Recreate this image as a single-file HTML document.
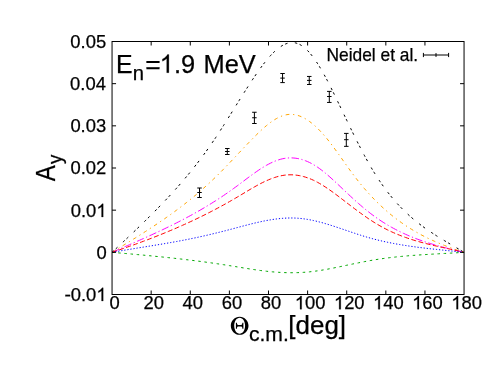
<!DOCTYPE html>
<html><head><meta charset="utf-8"><title>Ay plot</title>
<style>
html,body{margin:0;padding:0;background:#fff;}
body{width:491px;height:379px;overflow:hidden;font-family:"Liberation Sans",sans-serif;}
svg{display:block;will-change:transform;}
text{font-family:"Liberation Sans",sans-serif;fill:#000;}
</style></head><body>
<svg width="491" height="379" viewBox="0 0 491 379">
<rect x="0" y="0" width="491" height="379" fill="#ffffff"/>
<path d="M112.05,252.33 L114.01,250.50 L115.96,248.67 L117.92,246.84 L119.87,245.00 L121.83,243.17 L123.78,241.33 L125.74,239.49 L127.69,237.65 L129.65,235.80 L131.61,233.94 L133.56,232.08 L135.52,230.22 L137.47,228.34 L139.43,226.46 L141.38,224.57 L143.34,222.67 L145.29,220.75 L147.25,218.83 L149.21,216.89 L151.16,214.95 L153.12,212.99 L155.07,211.01 L157.03,209.02 L158.98,207.01 L160.94,204.99 L162.89,202.95 L164.85,200.89 L166.81,198.82 L168.76,196.72 L170.72,194.61 L172.67,192.47 L174.63,190.31 L176.58,188.13 L178.54,185.92 L180.49,183.68 L182.45,181.42 L184.41,179.13 L186.36,176.81 L188.32,174.45 L190.27,172.07 L192.23,169.65 L194.18,167.20 L196.14,164.71 L198.09,162.18 L200.05,159.62 L202.01,157.01 L203.96,154.37 L205.92,151.68 L207.87,148.95 L209.83,146.18 L211.78,143.36 L213.74,140.49 L215.69,137.57 L217.65,134.62 L219.61,131.62 L221.56,128.58 L223.52,125.52 L225.47,122.43 L227.43,119.32 L229.38,116.19 L231.34,113.06 L233.29,109.91 L235.25,106.76 L237.21,103.62 L239.16,100.48 L241.12,97.36 L243.07,94.25 L245.03,91.17 L246.98,88.11 L248.94,85.08 L250.89,82.09 L252.85,79.13 L254.81,76.23 L256.76,73.37 L258.72,70.58 L260.67,67.86 L262.63,65.22 L264.58,62.67 L266.54,60.23 L268.49,57.90 L270.45,55.70 L272.41,53.63 L274.36,51.70 L276.32,49.93 L278.27,48.32 L280.23,46.89 L282.18,45.64 L284.14,44.59 L286.09,43.75 L288.05,43.12 L290.01,42.72 L291.96,42.55 L293.92,42.64 L295.87,42.98 L297.83,43.58 L299.78,44.47 L301.74,45.62 L303.69,47.04 L305.65,48.70 L307.61,50.60 L309.56,52.73 L311.52,55.08 L313.47,57.63 L315.43,60.37 L317.38,63.29 L319.34,66.39 L321.29,69.64 L323.25,73.04 L325.21,76.58 L327.16,80.24 L329.12,84.01 L331.07,87.88 L333.03,91.82 L334.98,95.83 L336.94,99.87 L338.89,103.94 L340.85,108.02 L342.81,112.11 L344.76,116.18 L346.72,120.25 L348.67,124.30 L350.63,128.32 L352.58,132.32 L354.54,136.27 L356.49,140.18 L358.45,144.05 L360.41,147.85 L362.36,151.60 L364.32,155.27 L366.27,158.87 L368.23,162.38 L370.18,165.81 L372.14,169.14 L374.09,172.37 L376.05,175.50 L378.01,178.53 L379.96,181.46 L381.92,184.30 L383.87,187.04 L385.83,189.70 L387.78,192.27 L389.74,194.76 L391.69,197.16 L393.65,199.48 L395.61,201.73 L397.56,203.91 L399.52,206.01 L401.47,208.05 L403.43,210.02 L405.38,211.92 L407.34,213.77 L409.29,215.56 L411.25,217.29 L413.21,218.96 L415.16,220.59 L417.12,222.17 L419.07,223.70 L421.03,225.19 L422.98,226.64 L424.94,228.06 L426.89,229.43 L428.85,230.78 L430.81,232.09 L432.76,233.38 L434.72,234.64 L436.67,235.88 L438.63,237.10 L440.58,238.31 L442.54,239.49 L444.49,240.67 L446.45,241.84 L448.41,243.00 L450.36,244.15 L452.32,245.31 L454.27,246.46 L456.23,247.62 L458.18,248.78 L460.14,249.95 L462.09,251.14 L464.05,252.33" fill="none" stroke="#000000" stroke-width="1.0" stroke-dasharray="2.477 2.477 2.477 7.431" stroke-dashoffset="0"/>
<path d="M112.05,252.33 L114.01,251.13 L115.96,249.92 L117.92,248.72 L119.87,247.51 L121.83,246.31 L123.78,245.10 L125.74,243.90 L127.69,242.69 L129.65,241.48 L131.61,240.26 L133.56,239.04 L135.52,237.82 L137.47,236.59 L139.43,235.36 L141.38,234.12 L143.34,232.87 L145.29,231.62 L147.25,230.36 L149.21,229.09 L151.16,227.81 L153.12,226.52 L155.07,225.22 L157.03,223.91 L158.98,222.60 L160.94,221.26 L162.89,219.92 L164.85,218.57 L166.81,217.20 L168.76,215.81 L170.72,214.41 L172.67,213.00 L174.63,211.57 L176.58,210.13 L178.54,208.67 L180.49,207.19 L182.45,205.69 L184.41,204.18 L186.36,202.64 L188.32,201.09 L190.27,199.52 L192.23,197.92 L194.18,196.31 L196.14,194.67 L198.09,193.01 L200.05,191.33 L202.01,189.62 L203.96,187.89 L205.92,186.14 L207.87,184.36 L209.83,182.56 L211.78,180.72 L213.74,178.87 L215.69,176.98 L217.65,175.07 L219.61,173.12 L221.56,171.16 L223.52,169.16 L225.47,167.15 L227.43,165.12 L229.38,163.07 L231.34,161.02 L233.29,158.95 L235.25,156.88 L237.21,154.80 L239.16,152.72 L241.12,150.65 L243.07,148.58 L245.03,146.52 L246.98,144.47 L248.94,142.44 L250.89,140.42 L252.85,138.42 L254.81,136.45 L256.76,134.50 L258.72,132.60 L260.67,130.75 L262.63,128.95 L264.58,127.22 L266.54,125.56 L268.49,123.98 L270.45,122.50 L272.41,121.11 L274.36,119.82 L276.32,118.65 L278.27,117.60 L280.23,116.69 L282.18,115.91 L284.14,115.28 L286.09,114.80 L288.05,114.49 L290.01,114.35 L291.96,114.38 L293.92,114.57 L295.87,114.92 L297.83,115.42 L299.78,116.08 L301.74,116.88 L303.69,117.83 L305.65,118.92 L307.61,120.15 L309.56,121.50 L311.52,122.98 L313.47,124.59 L315.43,126.31 L317.38,128.15 L319.34,130.11 L321.29,132.16 L323.25,134.33 L325.21,136.59 L327.16,138.94 L329.12,141.38 L331.07,143.91 L333.03,146.50 L334.98,149.16 L336.94,151.86 L338.89,154.59 L340.85,157.35 L342.81,160.11 L344.76,162.88 L346.72,165.64 L348.67,168.38 L350.63,171.08 L352.58,173.74 L354.54,176.34 L356.49,178.87 L358.45,181.35 L360.41,183.77 L362.36,186.14 L364.32,188.44 L366.27,190.69 L368.23,192.89 L370.18,195.03 L372.14,197.12 L374.09,199.15 L376.05,201.13 L378.01,203.07 L379.96,204.95 L381.92,206.79 L383.87,208.57 L385.83,210.31 L387.78,212.01 L389.74,213.66 L391.69,215.27 L393.65,216.83 L395.61,218.35 L397.56,219.83 L399.52,221.27 L401.47,222.67 L403.43,224.03 L405.38,225.36 L407.34,226.65 L409.29,227.90 L411.25,229.12 L413.21,230.30 L415.16,231.45 L417.12,232.57 L419.07,233.66 L421.03,234.72 L422.98,235.75 L424.94,236.76 L426.89,237.73 L428.85,238.68 L430.81,239.60 L432.76,240.50 L434.72,241.38 L436.67,242.23 L438.63,243.06 L440.58,243.87 L442.54,244.66 L444.49,245.44 L446.45,246.19 L448.41,246.93 L450.36,247.65 L452.32,248.36 L454.27,249.05 L456.23,249.73 L458.18,250.40 L460.14,251.05 L462.09,251.70 L464.05,252.33" fill="none" stroke="#ffa500" stroke-width="1.0" stroke-dasharray="3.715 3.715 1.238 3.715" stroke-dashoffset="0"/>
<path d="M112.05,252.33 L114.01,251.48 L115.96,250.62 L117.92,249.76 L119.87,248.91 L121.83,248.05 L123.78,247.20 L125.74,246.34 L127.69,245.49 L129.65,244.63 L131.61,243.77 L133.56,242.91 L135.52,242.05 L137.47,241.18 L139.43,240.32 L141.38,239.45 L143.34,238.57 L145.29,237.70 L147.25,236.81 L149.21,235.93 L151.16,235.04 L153.12,234.14 L155.07,233.24 L157.03,232.33 L158.98,231.42 L160.94,230.50 L162.89,229.57 L164.85,228.64 L166.81,227.69 L168.76,226.74 L170.72,225.79 L172.67,224.82 L174.63,223.84 L176.58,222.86 L178.54,221.86 L180.49,220.86 L182.45,219.85 L184.41,218.82 L186.36,217.78 L188.32,216.74 L190.27,215.68 L192.23,214.61 L194.18,213.52 L196.14,212.43 L198.09,211.32 L200.05,210.19 L202.01,209.06 L203.96,207.91 L205.92,206.74 L207.87,205.56 L209.83,204.37 L211.78,203.16 L213.74,201.93 L215.69,200.69 L217.65,199.43 L219.61,198.16 L221.56,196.87 L223.52,195.56 L225.47,194.23 L227.43,192.88 L229.38,191.52 L231.34,190.13 L233.29,188.73 L235.25,187.31 L237.21,185.87 L239.16,184.41 L241.12,182.95 L243.07,181.47 L245.03,180.00 L246.98,178.53 L248.94,177.07 L250.89,175.63 L252.85,174.21 L254.81,172.81 L256.76,171.45 L258.72,170.12 L260.67,168.83 L262.63,167.59 L264.58,166.40 L266.54,165.26 L268.49,164.19 L270.45,163.19 L272.41,162.25 L274.36,161.40 L276.32,160.62 L278.27,159.94 L280.23,159.35 L282.18,158.85 L284.14,158.46 L286.09,158.17 L288.05,157.98 L290.01,157.89 L291.96,157.91 L293.92,158.02 L295.87,158.24 L297.83,158.55 L299.78,158.97 L301.74,159.48 L303.69,160.09 L305.65,160.80 L307.61,161.61 L309.56,162.51 L311.52,163.51 L313.47,164.61 L315.43,165.80 L317.38,167.08 L319.34,168.45 L321.29,169.90 L323.25,171.41 L325.21,173.00 L327.16,174.64 L329.12,176.33 L331.07,178.06 L333.03,179.83 L334.98,181.64 L336.94,183.47 L338.89,185.31 L340.85,187.17 L342.81,189.02 L344.76,190.88 L346.72,192.73 L348.67,194.56 L350.63,196.38 L352.58,198.18 L354.54,199.95 L356.49,201.71 L358.45,203.44 L360.41,205.14 L362.36,206.82 L364.32,208.46 L366.27,210.06 L368.23,211.63 L370.18,213.16 L372.14,214.65 L374.09,216.10 L376.05,217.50 L378.01,218.87 L379.96,220.19 L381.92,221.48 L383.87,222.73 L385.83,223.94 L387.78,225.11 L389.74,226.25 L391.69,227.36 L393.65,228.43 L395.61,229.47 L397.56,230.48 L399.52,231.46 L401.47,232.41 L403.43,233.33 L405.38,234.22 L407.34,235.09 L409.29,235.93 L411.25,236.74 L413.21,237.53 L415.16,238.30 L417.12,239.04 L419.07,239.76 L421.03,240.46 L422.98,241.14 L424.94,241.80 L426.89,242.44 L428.85,243.07 L430.81,243.67 L432.76,244.27 L434.72,244.84 L436.67,245.41 L438.63,245.96 L440.58,246.50 L442.54,247.03 L444.49,247.54 L446.45,248.05 L448.41,248.55 L450.36,249.04 L452.32,249.52 L454.27,250.00 L456.23,250.47 L458.18,250.94 L460.14,251.41 L462.09,251.87 L464.05,252.33" fill="none" stroke="#ff00ff" stroke-width="1.0" stroke-dasharray="7.431 2.477 1.238 2.477" stroke-dashoffset="0"/>
<path d="M112.05,252.33 L114.01,251.68 L115.96,251.02 L117.92,250.36 L119.87,249.69 L121.83,249.02 L123.78,248.34 L125.74,247.66 L127.69,246.98 L129.65,246.29 L131.61,245.59 L133.56,244.89 L135.52,244.19 L137.47,243.48 L139.43,242.76 L141.38,242.04 L143.34,241.31 L145.29,240.57 L147.25,239.83 L149.21,239.09 L151.16,238.34 L153.12,237.58 L155.07,236.81 L157.03,236.04 L158.98,235.26 L160.94,234.47 L162.89,233.68 L164.85,232.88 L166.81,232.07 L168.76,231.26 L170.72,230.44 L172.67,229.61 L174.63,228.77 L176.58,227.93 L178.54,227.07 L180.49,226.21 L182.45,225.34 L184.41,224.46 L186.36,223.58 L188.32,222.68 L190.27,221.78 L192.23,220.87 L194.18,219.94 L196.14,219.01 L198.09,218.07 L200.05,217.12 L202.01,216.16 L203.96,215.20 L205.92,214.22 L207.87,213.23 L209.83,212.23 L211.78,211.22 L213.74,210.20 L215.69,209.18 L217.65,208.14 L219.61,207.09 L221.56,206.03 L223.52,204.95 L225.47,203.87 L227.43,202.78 L229.38,201.67 L231.34,200.56 L233.29,199.43 L235.25,198.29 L237.21,197.14 L239.16,195.98 L241.12,194.81 L243.07,193.63 L245.03,192.45 L246.98,191.28 L248.94,190.12 L250.89,188.97 L252.85,187.83 L254.81,186.72 L256.76,185.62 L258.72,184.56 L260.67,183.53 L262.63,182.54 L264.58,181.59 L266.54,180.68 L268.49,179.83 L270.45,179.02 L272.41,178.27 L274.36,177.59 L276.32,176.97 L278.27,176.42 L280.23,175.95 L282.18,175.55 L284.14,175.24 L286.09,175.01 L288.05,174.86 L290.01,174.80 L291.96,174.81 L293.92,174.92 L295.87,175.10 L297.83,175.36 L299.78,175.70 L301.74,176.12 L303.69,176.62 L305.65,177.20 L307.61,177.85 L309.56,178.58 L311.52,179.38 L313.47,180.26 L315.43,181.21 L317.38,182.23 L319.34,183.32 L321.29,184.46 L323.25,185.66 L325.21,186.91 L327.16,188.21 L329.12,189.55 L331.07,190.92 L333.03,192.33 L334.98,193.76 L336.94,195.22 L338.89,196.70 L340.85,198.19 L342.81,199.69 L344.76,201.20 L346.72,202.71 L348.67,204.21 L350.63,205.71 L352.58,207.20 L354.54,208.67 L356.49,210.13 L358.45,211.58 L360.41,213.01 L362.36,214.42 L364.32,215.80 L366.27,217.17 L368.23,218.50 L370.18,219.81 L372.14,221.09 L374.09,222.33 L376.05,223.54 L378.01,224.71 L379.96,225.85 L381.92,226.94 L383.87,228.00 L385.83,229.01 L387.78,230.00 L389.74,230.94 L391.69,231.85 L393.65,232.73 L395.61,233.58 L397.56,234.40 L399.52,235.19 L401.47,235.95 L403.43,236.68 L405.38,237.39 L407.34,238.07 L409.29,238.73 L411.25,239.37 L413.21,239.99 L415.16,240.58 L417.12,241.16 L419.07,241.72 L421.03,242.26 L422.98,242.79 L424.94,243.30 L426.89,243.80 L428.85,244.29 L430.81,244.76 L432.76,245.23 L434.72,245.69 L436.67,246.14 L438.63,246.58 L440.58,247.02 L442.54,247.46 L444.49,247.89 L446.45,248.33 L448.41,248.76 L450.36,249.19 L452.32,249.62 L454.27,250.06 L456.23,250.50 L458.18,250.95 L460.14,251.40 L462.09,251.86 L464.05,252.33" fill="none" stroke="#ff0000" stroke-width="1.0" stroke-dasharray="4.954 2.477" stroke-dashoffset="0"/>
<path d="M112.05,252.33 L114.01,251.99 L115.96,251.64 L117.92,251.31 L119.87,250.97 L121.83,250.64 L123.78,250.31 L125.74,249.98 L127.69,249.66 L129.65,249.34 L131.61,249.02 L133.56,248.70 L135.52,248.38 L137.47,248.06 L139.43,247.75 L141.38,247.43 L143.34,247.12 L145.29,246.80 L147.25,246.48 L149.21,246.17 L151.16,245.85 L153.12,245.53 L155.07,245.21 L157.03,244.89 L158.98,244.57 L160.94,244.24 L162.89,243.91 L164.85,243.58 L166.81,243.24 L168.76,242.90 L170.72,242.56 L172.67,242.21 L174.63,241.86 L176.58,241.51 L178.54,241.15 L180.49,240.78 L182.45,240.41 L184.41,240.03 L186.36,239.65 L188.32,239.26 L190.27,238.87 L192.23,238.46 L194.18,238.05 L196.14,237.64 L198.09,237.22 L200.05,236.79 L202.01,236.35 L203.96,235.91 L205.92,235.46 L207.87,235.01 L209.83,234.55 L211.78,234.09 L213.74,233.62 L215.69,233.14 L217.65,232.66 L219.61,232.17 L221.56,231.68 L223.52,231.19 L225.47,230.69 L227.43,230.18 L229.38,229.67 L231.34,229.16 L233.29,228.64 L235.25,228.12 L237.21,227.59 L239.16,227.07 L241.12,226.55 L243.07,226.03 L245.03,225.52 L246.98,225.01 L248.94,224.50 L250.89,224.01 L252.85,223.53 L254.81,223.05 L256.76,222.59 L258.72,222.15 L260.67,221.72 L262.63,221.30 L264.58,220.90 L266.54,220.53 L268.49,220.17 L270.45,219.83 L272.41,219.52 L274.36,219.23 L276.32,218.97 L278.27,218.74 L280.23,218.54 L282.18,218.36 L284.14,218.22 L286.09,218.11 L288.05,218.03 L290.01,217.99 L291.96,217.99 L293.92,218.03 L295.87,218.10 L297.83,218.22 L299.78,218.38 L301.74,218.58 L303.69,218.82 L305.65,219.10 L307.61,219.41 L309.56,219.76 L311.52,220.14 L313.47,220.55 L315.43,220.99 L317.38,221.46 L319.34,221.95 L321.29,222.47 L323.25,223.01 L325.21,223.57 L327.16,224.14 L329.12,224.74 L331.07,225.35 L333.03,225.97 L334.98,226.61 L336.94,227.25 L338.89,227.91 L340.85,228.56 L342.81,229.23 L344.76,229.90 L346.72,230.57 L348.67,231.23 L350.63,231.90 L352.58,232.56 L354.54,233.22 L356.49,233.87 L358.45,234.51 L360.41,235.14 L362.36,235.75 L364.32,236.36 L366.27,236.94 L368.23,237.51 L370.18,238.06 L372.14,238.60 L374.09,239.12 L376.05,239.62 L378.01,240.10 L379.96,240.57 L381.92,241.03 L383.87,241.47 L385.83,241.89 L387.78,242.31 L389.74,242.71 L391.69,243.09 L393.65,243.47 L395.61,243.83 L397.56,244.18 L399.52,244.52 L401.47,244.85 L403.43,245.17 L405.38,245.48 L407.34,245.78 L409.29,246.07 L411.25,246.35 L413.21,246.63 L415.16,246.90 L417.12,247.16 L419.07,247.41 L421.03,247.65 L422.98,247.90 L424.94,248.13 L426.89,248.36 L428.85,248.59 L430.81,248.81 L432.76,249.02 L434.72,249.24 L436.67,249.45 L438.63,249.66 L440.58,249.86 L442.54,250.07 L444.49,250.27 L446.45,250.47 L448.41,250.68 L450.36,250.88 L452.32,251.08 L454.27,251.29 L456.23,251.49 L458.18,251.70 L460.14,251.91 L462.09,252.12 L464.05,252.33" fill="none" stroke="#0000ff" stroke-width="1.0" stroke-dasharray="1.238 1.858" stroke-dashoffset="0"/>
<path d="M112.05,252.33 L114.01,252.50 L115.96,252.67 L117.92,252.84 L119.87,253.01 L121.83,253.18 L123.78,253.36 L125.74,253.53 L127.69,253.70 L129.65,253.88 L131.61,254.05 L133.56,254.23 L135.52,254.41 L137.47,254.59 L139.43,254.77 L141.38,254.95 L143.34,255.14 L145.29,255.32 L147.25,255.51 L149.21,255.70 L151.16,255.88 L153.12,256.08 L155.07,256.27 L157.03,256.47 L158.98,256.66 L160.94,256.86 L162.89,257.06 L164.85,257.27 L166.81,257.47 L168.76,257.68 L170.72,257.89 L172.67,258.10 L174.63,258.32 L176.58,258.54 L178.54,258.76 L180.49,258.98 L182.45,259.20 L184.41,259.43 L186.36,259.66 L188.32,259.90 L190.27,260.14 L192.23,260.38 L194.18,260.62 L196.14,260.87 L198.09,261.12 L200.05,261.37 L202.01,261.63 L203.96,261.89 L205.92,262.15 L207.87,262.42 L209.83,262.69 L211.78,262.96 L213.74,263.24 L215.69,263.52 L217.65,263.81 L219.61,264.10 L221.56,264.39 L223.52,264.69 L225.47,265.00 L227.43,265.30 L229.38,265.61 L231.34,265.93 L233.29,266.25 L235.25,266.57 L237.21,266.89 L239.16,267.22 L241.12,267.54 L243.07,267.86 L245.03,268.18 L246.98,268.49 L248.94,268.81 L250.89,269.11 L252.85,269.41 L254.81,269.70 L256.76,269.99 L258.72,270.26 L260.67,270.53 L262.63,270.78 L264.58,271.02 L266.54,271.24 L268.49,271.46 L270.45,271.65 L272.41,271.84 L274.36,272.00 L276.32,272.15 L278.27,272.29 L280.23,272.41 L282.18,272.51 L284.14,272.59 L286.09,272.65 L288.05,272.70 L290.01,272.72 L291.96,272.73 L293.92,272.72 L295.87,272.68 L297.83,272.63 L299.78,272.55 L301.74,272.46 L303.69,272.34 L305.65,272.19 L307.61,272.03 L309.56,271.84 L311.52,271.63 L313.47,271.40 L315.43,271.14 L317.38,270.87 L319.34,270.57 L321.29,270.26 L323.25,269.93 L325.21,269.59 L327.16,269.24 L329.12,268.87 L331.07,268.49 L333.03,268.11 L334.98,267.71 L336.94,267.31 L338.89,266.91 L340.85,266.50 L342.81,266.09 L344.76,265.68 L346.72,265.26 L348.67,264.85 L350.63,264.44 L352.58,264.03 L354.54,263.63 L356.49,263.23 L358.45,262.83 L360.41,262.44 L362.36,262.05 L364.32,261.67 L366.27,261.30 L368.23,260.94 L370.18,260.59 L372.14,260.24 L374.09,259.91 L376.05,259.60 L378.01,259.29 L379.96,258.99 L381.92,258.71 L383.87,258.44 L385.83,258.17 L387.78,257.92 L389.74,257.68 L391.69,257.44 L393.65,257.22 L395.61,257.00 L397.56,256.80 L399.52,256.60 L401.47,256.41 L403.43,256.22 L405.38,256.04 L407.34,255.87 L409.29,255.71 L411.25,255.55 L413.21,255.40 L415.16,255.25 L417.12,255.11 L419.07,254.97 L421.03,254.84 L422.98,254.71 L424.94,254.59 L426.89,254.47 L428.85,254.35 L430.81,254.23 L432.76,254.12 L434.72,254.01 L436.67,253.90 L438.63,253.79 L440.58,253.68 L442.54,253.57 L444.49,253.46 L446.45,253.36 L448.41,253.25 L450.36,253.14 L452.32,253.03 L454.27,252.92 L456.23,252.81 L458.18,252.69 L460.14,252.58 L462.09,252.46 L464.05,252.33" fill="none" stroke="#00a800" stroke-width="1.0" stroke-dasharray="2.477 3.715" stroke-dashoffset="0"/>
<path stroke="#000" stroke-width="1.0" fill="none" d="M199.50,188.00V197.50 M197.25,188.00H201.75 M197.25,197.50H201.75 M197.25,192.50H201.75"/>
<path stroke="#000" stroke-width="1.0" fill="none" d="M227.30,148.50V154.50 M225.05,148.50H229.55 M225.05,154.50H229.55 M225.05,151.50H229.55"/>
<path stroke="#000" stroke-width="1.0" fill="none" d="M254.40,112.25V123.50 M252.15,112.25H256.65 M252.15,123.50H256.65 M252.15,117.75H256.65"/>
<path stroke="#000" stroke-width="1.0" fill="none" d="M282.55,73.50V82.60 M280.30,73.50H284.80 M280.30,82.60H284.80 M280.30,78.10H284.80"/>
<path stroke="#000" stroke-width="1.0" fill="none" d="M309.25,76.45V84.50 M307.00,76.45H311.50 M307.00,84.50H311.50 M307.00,80.40H311.50"/>
<path stroke="#000" stroke-width="1.0" fill="none" d="M329.30,91.40V102.45 M327.05,91.40H331.55 M327.05,102.45H331.55 M327.05,96.50H331.55"/>
<path stroke="#000" stroke-width="1.0" fill="none" d="M346.30,133.40V146.35 M344.05,133.40H348.55 M344.05,146.35H348.55 M344.05,139.70H348.55"/>
<path stroke="#000" stroke-width="1.0" fill="none" d="M423.4,55.0H448.6 M423.4,52.9V57.1 M448.6,52.9V57.1 M436.0,53.1V56.9"/>
<rect x="112.05" y="41.5" width="352.00" height="253.00" fill="none" stroke="#000" stroke-width="1.0"/>
<path d="M112.05,252.33h4 M464.05,252.33h-4 M112.05,210.17h4 M464.05,210.17h-4 M112.05,168.00h4 M464.05,168.00h-4 M112.05,125.83h4 M464.05,125.83h-4 M112.05,83.67h4 M464.05,83.67h-4 M151.16,294.50v-4 M151.16,41.50v4 M190.27,294.50v-4 M190.27,41.50v4 M229.38,294.50v-4 M229.38,41.50v4 M268.49,294.50v-4 M268.49,41.50v4 M307.61,294.50v-4 M307.61,41.50v4 M346.72,294.50v-4 M346.72,41.50v4 M385.83,294.50v-4 M385.83,41.50v4 M424.94,294.50v-4 M424.94,41.50v4" fill="none" stroke="#000" stroke-width="1.0"/>
<text x="70.77" y="301.00" font-size="18.4" textLength="25.58" lengthAdjust="spacingAndGlyphs" stroke="#000" stroke-width="0.25">0.0</text><path d="M763 0H583V1147Q518 1085 412.5 1023T223 930V1104Q374 1175 487 1276T647 1472H763Z" transform="translate(96.34,301.00) scale(0.00898,-0.00898)" fill="#000" stroke="#000" stroke-width="27.8"/>
<text x="64.54" y="301.00" font-size="18.4" textLength="6.41" lengthAdjust="spacingAndGlyphs" stroke="#000" stroke-width="0.25">-</text>
<text x="96.39" y="259.00" font-size="18.4" textLength="10.23" lengthAdjust="spacingAndGlyphs" stroke="#000" stroke-width="0.25">0</text>
<text x="70.77" y="217.00" font-size="18.4" textLength="25.58" lengthAdjust="spacingAndGlyphs" stroke="#000" stroke-width="0.25">0.0</text><path d="M763 0H583V1147Q518 1085 412.5 1023T223 930V1104Q374 1175 487 1276T647 1472H763Z" transform="translate(96.34,217.00) scale(0.00898,-0.00898)" fill="#000" stroke="#000" stroke-width="27.8"/>
<text x="70.51" y="174.40" font-size="18.4" textLength="35.81" lengthAdjust="spacingAndGlyphs" stroke="#000" stroke-width="0.25">0.02</text>
<text x="70.40" y="132.00" font-size="18.4" textLength="35.81" lengthAdjust="spacingAndGlyphs" stroke="#000" stroke-width="0.25">0.03</text>
<text x="70.13" y="90.00" font-size="18.4" textLength="35.81" lengthAdjust="spacingAndGlyphs" stroke="#000" stroke-width="0.25">0.04</text>
<text x="70.36" y="47.90" font-size="18.4" textLength="35.81" lengthAdjust="spacingAndGlyphs" stroke="#000" stroke-width="0.25">0.05</text>
<text x="109.48" y="309.20" font-size="18.4" textLength="10.23" lengthAdjust="spacingAndGlyphs" stroke="#000" stroke-width="0.25">0</text>
<text x="143.48" y="309.20" font-size="18.4" textLength="20.47" lengthAdjust="spacingAndGlyphs" stroke="#000" stroke-width="0.25">20</text>
<text x="182.59" y="309.20" font-size="18.4" textLength="20.47" lengthAdjust="spacingAndGlyphs" stroke="#000" stroke-width="0.25">40</text>
<text x="221.70" y="309.20" font-size="18.4" textLength="20.47" lengthAdjust="spacingAndGlyphs" stroke="#000" stroke-width="0.25">60</text>
<text x="260.81" y="309.20" font-size="18.4" textLength="20.47" lengthAdjust="spacingAndGlyphs" stroke="#000" stroke-width="0.25">80</text>
<path d="M763 0H583V1147Q518 1085 412.5 1023T223 930V1104Q374 1175 487 1276T647 1472H763Z" transform="translate(294.81,309.20) scale(0.00898,-0.00898)" fill="#000" stroke="#000" stroke-width="27.8"/><text x="305.04" y="309.20" font-size="18.4" textLength="20.47" lengthAdjust="spacingAndGlyphs" stroke="#000" stroke-width="0.25">00</text>
<path d="M763 0H583V1147Q518 1085 412.5 1023T223 930V1104Q374 1175 487 1276T647 1472H763Z" transform="translate(333.92,309.20) scale(0.00898,-0.00898)" fill="#000" stroke="#000" stroke-width="27.8"/><text x="344.15" y="309.20" font-size="18.4" textLength="20.47" lengthAdjust="spacingAndGlyphs" stroke="#000" stroke-width="0.25">20</text>
<path d="M763 0H583V1147Q518 1085 412.5 1023T223 930V1104Q374 1175 487 1276T647 1472H763Z" transform="translate(373.03,309.20) scale(0.00898,-0.00898)" fill="#000" stroke="#000" stroke-width="27.8"/><text x="383.26" y="309.20" font-size="18.4" textLength="20.47" lengthAdjust="spacingAndGlyphs" stroke="#000" stroke-width="0.25">40</text>
<path d="M763 0H583V1147Q518 1085 412.5 1023T223 930V1104Q374 1175 487 1276T647 1472H763Z" transform="translate(412.14,309.20) scale(0.00898,-0.00898)" fill="#000" stroke="#000" stroke-width="27.8"/><text x="422.37" y="309.20" font-size="18.4" textLength="20.47" lengthAdjust="spacingAndGlyphs" stroke="#000" stroke-width="0.25">60</text>
<path d="M763 0H583V1147Q518 1085 412.5 1023T223 930V1104Q374 1175 487 1276T647 1472H763Z" transform="translate(451.25,309.20) scale(0.00898,-0.00898)" fill="#000" stroke="#000" stroke-width="27.8"/><text x="461.48" y="309.20" font-size="18.4" textLength="20.47" lengthAdjust="spacingAndGlyphs" stroke="#000" stroke-width="0.25">80</text>
<text x="326.48" y="60.60" font-size="17.7" textLength="91.71" lengthAdjust="spacingAndGlyphs" stroke="#000" stroke-width="0.25">Neidel et al.</text>
<text x="116.01" y="72.70" font-size="26.3" textLength="16.61" lengthAdjust="spacingAndGlyphs" stroke="#000" stroke-width="0.25">E</text>
<text x="132.66" y="80.20" font-size="20.4" textLength="11.26" lengthAdjust="spacingAndGlyphs" stroke="#000" stroke-width="0.25">n</text>
<text x="145.16" y="73.40" font-size="26.3" textLength="15.45" lengthAdjust="spacingAndGlyphs" stroke="#000" stroke-width="0.25">=</text>
<path d="M763 0H583V1147Q518 1085 412.5 1023T223 930V1104Q374 1175 487 1276T647 1472H763Z" transform="translate(159.75,72.70) scale(0.01195,-0.01235)" fill="#000" stroke="#000" stroke-width="20.2"/><text x="173.89" y="72.70" font-size="26.3" textLength="21.21" lengthAdjust="spacingAndGlyphs" stroke="#000" stroke-width="0.25">.9</text>
<text x="203.50" y="72.70" font-size="26.3" textLength="21.19" lengthAdjust="spacingAndGlyphs" stroke="#000" stroke-width="0.25">M</text>
<text x="224.85" y="72.70" font-size="25.4" textLength="14.13" lengthAdjust="spacingAndGlyphs" stroke="#000" stroke-width="0.25">e</text>
<text x="238.85" y="72.70" font-size="26.3" textLength="16.96" lengthAdjust="spacingAndGlyphs" stroke="#000" stroke-width="0.25">V</text>
<g transform="translate(54.55,181.3) rotate(-90)"><text x="0.05" y="0.00" font-size="27.5" textLength="15.99" lengthAdjust="spacingAndGlyphs" stroke="#000" stroke-width="0.25">A</text><text x="17.35" y="7.50" font-size="20.4" textLength="9.38" lengthAdjust="spacingAndGlyphs" stroke="#000" stroke-width="0.25">y</text></g>
<path fill="#000" fill-rule="evenodd" d="M239.65,316.65 C244.54,316.65 248.50,320.72 248.50,325.75 C248.50,330.78 244.54,334.85 239.65,334.85 C234.76,334.85 230.80,330.78 230.80,325.75 C230.80,320.72 234.76,316.65 239.65,316.65 Z M239.65,317.75 C242.66,317.75 245.10,321.33 245.10,325.75 C245.10,330.17 242.66,333.75 239.65,333.75 C236.64,333.75 234.20,330.17 234.20,325.75 C234.20,321.33 236.64,317.75 239.65,317.75 Z"/>
<path fill="#000" d="M235.90,322.80 L236.90,322.80 Q236.90,324.95 238.00,324.95 L241.30,324.95 Q242.40,324.95 242.40,322.80 L243.40,322.80 L243.40,328.70 L242.40,328.70 Q242.40,326.55 241.30,326.55 L238.00,326.55 Q236.90,326.55 236.90,328.70 L235.90,328.70 Z"/>
<text x="248.90" y="341.30" font-size="20.4" textLength="39.93" lengthAdjust="spacingAndGlyphs" stroke="#000" stroke-width="0.25">c.m.</text>
<text x="288.35" y="334.30" font-size="25.0" textLength="57.70" lengthAdjust="spacingAndGlyphs" stroke="#000" stroke-width="0.25">[deg]</text>
</svg>
</body></html>
